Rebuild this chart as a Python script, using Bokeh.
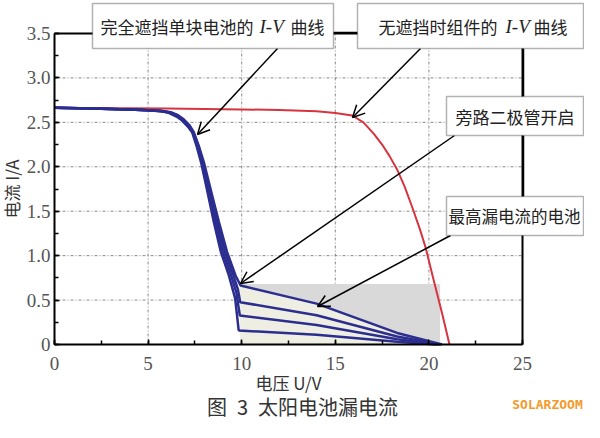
from bokeh.plotting import figure
from bokeh.models import (Label, Arrow, OpenHead, SingleIntervalTicker,
                          NumeralTickFormatter, LinearAxis, FixedTicker,
                          BoxAnnotation)
from bokeh.embed import file_html
from bokeh.resources import INLINE

# ---------------- data ----------------
# unshaded module I-V curve (red)
red_v = [0, 2, 4, 6, 8, 10, 12, 14, 15, 15.9, 16.5, 17.06, 17.5, 17.9, 18.3,
         18.7, 19.1, 19.5, 19.82, 20.26, 20.71, 21.1]
red_i = [2.665, 2.66, 2.66, 2.655, 2.65, 2.645, 2.64, 2.625, 2.605, 2.577,
         2.5, 2.371, 2.25, 2.12, 1.97, 1.78, 1.55, 1.31, 1.095, 0.72, 0.345, 0.0]

# fully shaded single cell I-V curves (blue), four leakage levels
blue_a_v = [0, 2, 4, 5, 5.7, 6.2, 6.6, 6.9, 7.2, 7.44, 7.7, 7.98, 8.42, 8.78, 9.22, 9.67, 9.94, 14.0, 18.3, 20.7]
blue_a_i = [2.665, 2.655, 2.645, 2.635, 2.63, 2.615, 2.58, 2.535, 2.47, 2.39, 2.24, 2.05, 1.68, 1.38, 1.04, 0.777, 0.664, 0.46, 0.13, 0.0]

blue_b_v = [0, 2, 4, 5, 5.7, 6.2, 6.58, 6.88, 7.17, 7.41, 7.66, 7.93, 8.35, 8.69, 9.11, 9.55, 9.8, 9.92, 14.0, 18.3, 20.6]
blue_b_i = [2.665, 2.655, 2.645, 2.635, 2.628, 2.612, 2.575, 2.53, 2.465, 2.39, 2.24, 2.05, 1.68, 1.38, 1.04, 0.78, 0.62, 0.476, 0.33, 0.09, 0.0]

blue_c_v = [0, 2, 4, 5, 5.7, 6.15, 6.55, 6.85, 7.14, 7.38, 7.62, 7.88, 8.28, 8.6, 9.0, 9.43, 9.72, 9.9, 14.0, 18.3, 20.5]
blue_c_i = [2.665, 2.655, 2.645, 2.635, 2.626, 2.61, 2.57, 2.525, 2.46, 2.39, 2.24, 2.05, 1.68, 1.38, 1.04, 0.78, 0.58, 0.326, 0.22, 0.06, 0.0]

blue_d_v = [0, 2, 4, 5, 5.7, 6.1, 6.52, 6.82, 7.11, 7.35, 7.58, 7.83, 8.21, 8.51, 8.89, 9.31, 9.65, 9.84, 14.0, 18.3, 20.4]
blue_d_i = [2.665, 2.655, 2.645, 2.635, 2.625, 2.608, 2.565, 2.52, 2.455, 2.39, 2.24, 2.05, 1.68, 1.38, 1.04, 0.78, 0.52, 0.158, 0.11, 0.03, 0.0]

# leakage region (V from, V to, I from, I to)
leak_zone = [9.94, 20.6, 0.0, 0.68]

# axes extents and ticks
v_lim = (0, 25)
i_lim = (0, 3.5)
x_ticks = [0, 5, 10, 15, 20, 25]
y_ticks = [0, 0.5, 1.0, 1.5, 2.0, 2.5, 3.0, 3.5]

texts = {
    "cell": ("完全遮挡单块电池的", "I-V", "曲线"),
    "module": ("无遮挡时组件的", "I-V", "曲线"),
    "bypass": "旁路二极管开启",
    "leak": "最高漏电流的电池",
    "xlabel": "电压 U/V",
    "ylabel": "电流 I/A",
    "caption": "图\u20023\u2002太阳电池漏电流",
    "mark": "SOLARZOOM",
}

# ---------------- figure ----------------
CJK = "Noto Sans CJK SC"
SERIF = "Liberation Serif"
W, H = 584, 422
# pixel position of the axes box on the canvas
X0, X1, Y0, Y1 = 54, 522, 344, 33
sx = (X1 - X0) / (v_lim[1] - v_lim[0])
sy = (Y0 - Y1) / (i_lim[1] - i_lim[0])


def pv(px):   # canvas x pixel -> voltage
    return v_lim[0] + (px - X0) / sx


def pi(py):   # canvas y pixel -> current
    return i_lim[0] + (Y0 - py) / sy


# whole canvas is the frame so that call-outs outside the axes box are not clipped
p = figure(width=W, height=H, x_range=(pv(0), pv(W)), y_range=(pi(H), pi(0)),
           output_backend="svg", toolbar_location=None, min_border=0)
p.background_fill_color = "white"
p.border_fill_color = "white"
p.outline_line_color = None

xa = p.xaxis[0]
ya = p.yaxis[0]
xa.ticker = SingleIntervalTicker(interval=5, num_minor_ticks=2)
ya.ticker = SingleIntervalTicker(interval=0.5, num_minor_ticks=2)
ya.formatter = NumeralTickFormatter(format="0.0")
ya.major_label_overrides = {0: "0"}
xa.fixed_location = 0
ya.fixed_location = 0
xa.bounds = v_lim
ya.bounds = i_lim

for ax in (xa, ya):
    ax.axis_line_width = 2
    ax.axis_line_color = "black"
    ax.major_tick_in = 5
    ax.major_tick_out = 0
    ax.minor_tick_in = 4
    ax.minor_tick_out = 0
    ax.major_tick_line_color = "black"
    ax.minor_tick_line_color = "black"
    ax.major_tick_line_width = 1.5
    ax.minor_tick_line_width = 1.5
    ax.major_label_text_font = SERIF
    ax.major_label_text_font_size = "19px"
    ax.major_label_text_color = "#555555"
    ax.axis_label_text_font = CJK
    ax.axis_label_text_font_size = "17px"
    ax.axis_label_text_font_style = "normal"
    ax.axis_label_text_color = "#333333"

xa.major_label_standoff = 12
xa.axis_label_standoff = -3
ya.major_label_standoff = 4
ya.axis_label_standoff = 0
xa.axis_label = texts["xlabel"]
ya.axis_label = texts["ylabel"]

# top and right border of the axes box
top_ax = LinearAxis(fixed_location=i_lim[1], bounds=v_lim, ticker=FixedTicker(ticks=[]),
                    axis_line_width=2, axis_line_color="black")
right_ax = LinearAxis(fixed_location=v_lim[1], bounds=i_lim, ticker=FixedTicker(ticks=[]),
                      axis_line_width=2, axis_line_color="black")
p.add_layout(top_ax, "above")
p.add_layout(right_ax, "right")

# grid, limited to the axes box
p.xgrid.visible = False
p.ygrid.visible = False
gx = [t for t in x_ticks if v_lim[0] < t < v_lim[1]]
gy = [t for t in y_ticks if i_lim[0] < t < i_lim[1]]
p.segment(x0=gx, x1=gx, y0=[i_lim[0]] * len(gx), y1=[i_lim[1]] * len(gx),
          line_color="#8a8a8a", line_dash="3 2 1 2", line_width=1)
p.segment(x0=[v_lim[0]] * len(gy), x1=[v_lim[1]] * len(gy), y0=gy, y1=gy,
          line_color="#8a8a8a", line_dash="3 2 1 2", line_width=1)

# leakage shading
p.quad(left=[leak_zone[0]], right=[leak_zone[1]], bottom=[leak_zone[2]],
       top=[leak_zone[3]], fill_color="#d9d9d9", line_color=None)
k = blue_a_v.index(leak_zone[0])
p.patch(x=[blue_a_v[k]] + blue_a_v[k:] + [blue_a_v[k]],
        y=[0] + blue_a_i[k:] + [0], fill_color="#efeee2", line_color=None)

# curves
p.line(red_v, red_i, line_color="#d8343f", line_width=2)
for bv, bi in ((blue_d_v, blue_d_i), (blue_c_v, blue_c_i),
               (blue_b_v, blue_b_i), (blue_a_v, blue_a_i)):
    p.line(bv, bi, line_color="#2b2e8e", line_width=2.5)

# connector lines between call-out boxes (canvas pixels)
for x0, y0, x1, y1 in ((333, 32, 357, 32), (523, 48, 523, 96), (523, 135, 523, 196)):
    p.add_layout(Arrow(x_start=pv(x0), y_start=pi(y0), x_end=pv(x1), y_end=pi(y1),
                       end=None, line_color="black", line_width=1.5))

# arrows (canvas pixels)
for x0, y0, x1, y1 in ((277, 48, 197, 134), (420, 48, 352, 117),
                       (454, 135, 240, 283), (450, 235, 317, 306)):
    p.add_layout(Arrow(x_start=pv(x0), y_start=pi(y0), x_end=pv(x1), y_end=pi(y1),
                       end=OpenHead(size=12, line_color="black", line_width=1.5),
                       line_color="black", line_width=1.5))

# call-out boxes (canvas pixels: left, right, top, bottom)
for l, r, t, b in ((92, 333, 3, 48), (357, 583, 3, 48),
                   (446, 583, 96, 135), (446, 583, 196, 235)):
    p.add_layout(BoxAnnotation(left=pv(l), right=pv(r), top=pi(t), bottom=pi(b),
                               fill_color="white", fill_alpha=1.0,
                               line_color="black", line_width=1.5))


def txt(px, py, s, font=CJK, size="17px", style="normal", off=0):
    p.add_layout(Label(x=pv(px), y=pi(py), x_offset=off, text=s, text_font=font,
                       text_font_size=size, text_font_style=style,
                       text_color="#222222", text_align="left",
                       text_baseline="middle"))


c1, c2, c3 = texts["cell"]
txt(100, 25.5, c1)
txt(100, 25.5, c2, font=SERIF, size="19px", style="italic", off=159)
txt(100, 25.5, c3, off=190)
m1, m2, m3 = texts["module"]
txt(378, 25.5, m1)
txt(378, 25.5, m2, font=SERIF, size="19px", style="italic", off=127)
txt(378, 25.5, m3, off=155)
txt(455, 115.5, texts["bypass"])
txt(448, 215.5, texts["leak"], size="16.5px")

# caption and mark
p.add_layout(Label(x=pv(302), y=pi(406), text=texts["caption"], text_font=CJK,
                   text_font_size="20px", text_color="#333333",
                   text_align="center", text_baseline="middle"))
p.add_layout(Label(x=pv(547), y=pi(404), text=texts["mark"],
                   text_font="DejaVu Sans Mono", text_font_style="bold",
                   text_font_size="13px", text_color="#f39a2c",
                   text_align="center", text_baseline="middle"))

open("out.html", "w").write(file_html(p, INLINE))
